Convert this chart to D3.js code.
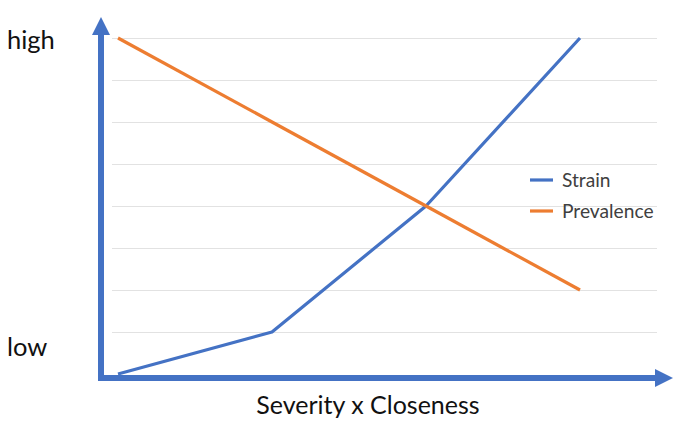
<!DOCTYPE html>
<html><head><meta charset="utf-8">
<script src="https://cdn.jsdelivr.net/npm/d3@7"></script>
<style>body{margin:0;background:#fff}svg{display:block}</style>
</head><body>
<script>
const steps = [0, 1, 2, 3];
const strain = [0, 1, 4, 8];
const prevalence = [8, 6, 4, 2];
const seriesNames = ["Strain", "Prevalence"];
const yTickLabels = [{v: 8, t: "high"}, {v: 0, t: "low"}];
const xTitle = "Severity x Closeness";

const W = 685, H = 422;
const svg = d3.select("body").append("svg").attr("width", W).attr("height", H);
const x = d3.scaleLinear().domain([0, 3]).range([118, 580]);
const y = d3.scaleLinear().domain([0, 8]).range([374, 38]);
const blue = "#4472C4", orange = "#ED7D31";
const font = "Lato, 'Open Sans', sans-serif";

// gridlines
const grid = svg.append("g").attr("transform", "translate(657,0)")
  .call(d3.axisLeft(y).tickValues(d3.range(1, 9)).tickSize(657 - 112).tickFormat(""));
grid.select(".domain").remove();
grid.selectAll("line").attr("stroke", "#e2e2e2").attr("stroke-width", 1.2);

// lines
const line = d3.line().x((d, i) => x(steps[i])).y(d => y(d));
[[strain, blue], [prevalence, orange]].forEach(([data, c]) => {
  svg.append("path").datum(data).attr("d", line).attr("fill", "none")
    .attr("stroke", c).attr("stroke-width", 3.2).attr("stroke-linejoin", "round");
});

// axes with arrows
const axisCol = "#4472C4";
svg.append("line").attr("x1", 101).attr("x2", 101).attr("y1", 380).attr("y2", 30)
  .attr("stroke", axisCol).attr("stroke-width", 6);
svg.append("path").attr("d", "M92,35 L101,17 L110,35 Z").attr("fill", axisCol);
svg.append("line").attr("x1", 98).attr("x2", 660).attr("y1", 378).attr("y2", 378)
  .attr("stroke", axisCol).attr("stroke-width", 6);
svg.append("path").attr("d", "M655,369 L673,378 L655,387 Z").attr("fill", axisCol);

// y labels
svg.selectAll("text.yl").data(yTickLabels).enter().append("text")
  .attr("x", 7).attr("y", d => d.v === 8 ? y(d.v) + 11 : y(d.v) - 18)
  .attr("font-family", font).attr("font-size", 25.5)
  .attr("fill", "#111").text(d => d.t);

// x title
svg.append("text").attr("x", 368).attr("y", 414).attr("text-anchor", "middle")
  .attr("font-family", font).attr("font-size", 25)
  .attr("fill", "#111").text(xTitle);

// legend
const lg = svg.append("g");
seriesNames.forEach((n, i) => {
  const yy = 180 + i * 31;
  lg.append("line").attr("x1", 530).attr("x2", 553).attr("y1", yy).attr("y2", yy)
    .attr("stroke", i ? orange : blue).attr("stroke-width", 3.2);
  lg.append("text").attr("x", 562).attr("y", yy + 6.5)
    .attr("font-family", font).attr("font-size", 19.2)
    .attr("fill", "#404040").text(n);
});
</script>
</body></html>
